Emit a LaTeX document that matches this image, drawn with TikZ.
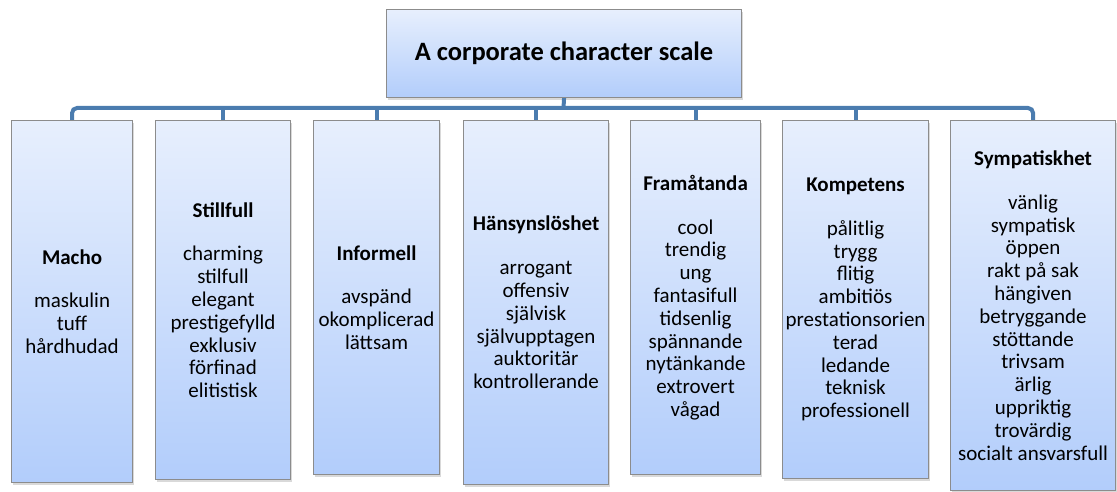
\documentclass[tikz,border=0pt]{standalone}
\usepackage{fontspec}
\setmainfont{Carlito}
\usepackage{tikz}
\usetikzlibrary{shadows}
\definecolor{busblue}{RGB}{75,124,175}
\definecolor{boxtop}{RGB}{231,239,253}
\definecolor{boxbottom}{RGB}{178,205,251}
\definecolor{boxrim}{RGB}{140,140,140}

\begin{document}
\begin{tikzpicture}[x = 1pt, y = -1pt,
	card/.style = {draw = boxrim, line width = 1.1pt,
		top color = boxtop, bottom color = boxbottom,
		anchor = north west, inner sep = 0pt, align = center,
		font = \fontsize{21}{22.8}\selectfont,
		drop shadow = {shadow xshift = 1pt, shadow yshift = -2pt, opacity = 0.3}},
	bus/.style = {draw = busblue, line width = 4pt}]
\useasboundingbox (0, 0) rectangle (1117, 492);
% title
\node[card, minimum width = 355pt, minimum height = 88pt,
	font = \fontsize{26.5}{30}\selectfont\bfseries] (scale) at (386, 9)
	{A corporate character scale};
% the seven characters
\node[card, minimum width = 121pt, minimum height = 362pt] (macho) at (11, 120)
	{\textbf{Macho}\\[21pt] maskulin\\ tuff\\ hårdhudad};
\node[card, minimum width = 135pt, minimum height = 359pt] (still) at (155, 120)
	{\textbf{Stillfull}\\[21pt] charming\\ stilfull\\ elegant\\ prestigefylld\\
	exklusiv\\ förfinad\\ elitistisk};
\node[card, minimum width = 126pt, minimum height = 354pt] (inform) at (313, 120)
	{\textbf{Informell}\\[21pt] avspänd\\ okomplicerad\\ lättsam};
\node[card, minimum width = 145pt, minimum height = 364pt] (hans) at (463, 120)
	{\textbf{Hänsynslöshet}\\[21pt] arrogant\\ offensiv\\ självisk\\ självupptagen\\
	auktoritär\\ kontrollerande};
\node[card, minimum width = 130pt, minimum height = 354pt] (fram) at (630, 120)
	{\textbf{Framåtanda}\\[21pt] cool\\ trendig\\ ung\\ fantasifull\\ tidsenlig\\
	spännande\\ nytänkande\\ extrovert\\ vågad};
\node[card, minimum width = 146pt, minimum height = 358pt] (komp) at (782, 120)
	{\textbf{Kompetens}\\[21pt] pålitlig\\ trygg\\ flitig\\ ambitiös\\ prestationsorien\\
	terad\\ ledande\\ teknisk\\ professionell};
\node[card, minimum width = 165pt, minimum height = 370pt] (symp) at (950, 120)
	{\textbf{Sympatiskhet}\\[21pt] vänlig\\ sympatisk\\ öppen\\ rakt på sak\\ hängiven\\
	betryggande\\ stöttande\\ trivsam\\ ärlig\\ uppriktig\\ trovärdig\\ socialt ansvarsfull};
% connectors
\coordinate (hub) at (563.5, 108);
\draw[bus, rounded corners = 5pt] (macho.north) |- (hub) -| (symp.north);
\draw[bus] (scale.south) -- (hub);
\foreach \n in {still, inform, hans, fram, komp}
	\draw[bus] (\n.north) -- (\n.north |- hub);
\end{tikzpicture}
\end{document}
